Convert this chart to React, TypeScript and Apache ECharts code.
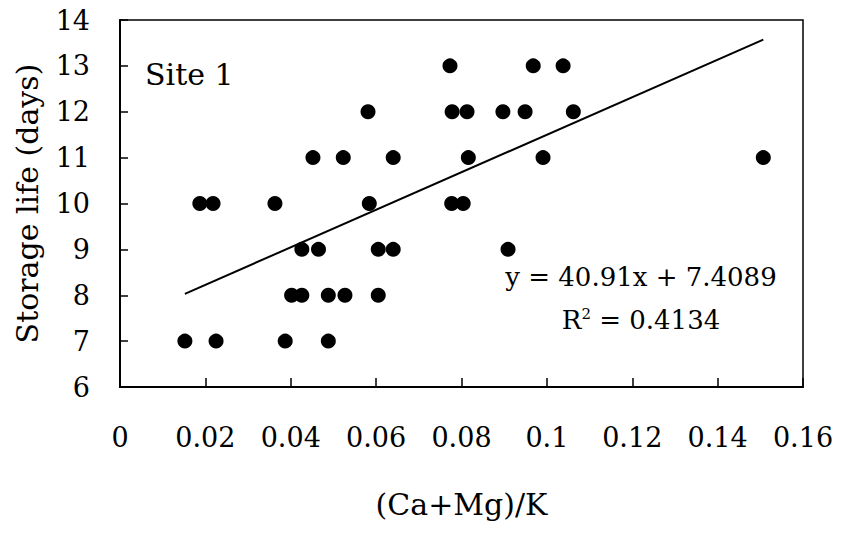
import React, { useEffect, useRef } from "react";
import * as echarts from "echarts";

const pointsX: number[] = [
  0.0187, 0.0218, 0.0363, 0.0584, 0.0777, 0.0804,
  0.0581, 0.0778, 0.0813, 0.0897, 0.0949, 0.1062,
  0.0773, 0.0968, 0.1038,
  0.0452, 0.0523, 0.064, 0.0816, 0.0991, 0.1507,
  0.0426, 0.0465, 0.0605, 0.064, 0.0909,
  0.0402, 0.0426, 0.0488, 0.0527, 0.0605,
  0.0152, 0.0225, 0.0387, 0.0488,
];
const pointsY: number[] = [
  10, 10, 10, 10, 10, 10,
  12, 12, 12, 12, 12, 12,
  13, 13, 13,
  11, 11, 11, 11, 11, 11,
  9, 9, 9, 9, 9,
  8, 8, 8, 8, 8,
  7, 7, 7, 7,
];
const slope = 40.91;
const intercept = 7.4089;
const rSquared = "0.4134";
const siteLabel = "Site 1";
const xAxisName = "(Ca+Mg)/K";
const yAxisName = "Storage life (days)";

const FONT = "DejaVu Serif";

export default function App() {
  const ref = useRef<HTMLDivElement>(null);
  useEffect(() => {
    if (!ref.current) return;
    const chart = echarts.init(ref.current, null, { renderer: "svg" });
    const scatter = pointsX.map((x, i) => [x, pointsY[i]]);
    const xmin = Math.min(...pointsX);
    const xmax = Math.max(...pointsX);
    const trend = [
      [xmin, slope * xmin + intercept],
      [xmax, slope * xmax + intercept],
    ];
    chart.setOption({
      animation: false,
      backgroundColor: "#fff",
      grid: {
        left: 120,
        top: 20,
        right: 38,
        bottom: 148,
        show: true,
        borderColor: "#000",
        borderWidth: 1.5,
      },
      xAxis: {
        type: "value",
        min: 0,
        max: 0.16,
        interval: 0.02,
        name: xAxisName,
        nameLocation: "middle",
        nameGap: 102,
        nameTextStyle: { fontFamily: FONT, fontSize: 30, color: "#000" },
        axisLine: { show: true, lineStyle: { color: "#000", width: 2 } },
        axisTick: { show: true, inside: true, length: 9, lineStyle: { color: "#000", width: 1.5 } },
        axisLabel: { margin: 37, fontFamily: FONT, fontSize: 27, color: "#000" },
        splitLine: { show: false },
      },
      yAxis: {
        type: "value",
        min: 6,
        max: 14,
        interval: 1,
        name: yAxisName,
        nameLocation: "middle",
        nameGap: 78,
        nameTextStyle: { fontFamily: FONT, fontSize: 30, color: "#000" },
        axisLine: { show: true, lineStyle: { color: "#000", width: 2 } },
        axisTick: { show: true, inside: true, length: 8, lineStyle: { color: "#000", width: 1.5 } },
        axisLabel: { margin: 30, fontFamily: FONT, fontSize: 27, color: "#000" },
        splitLine: { show: false },
      },
      series: [
        {
          type: "scatter",
          data: scatter,
          symbol: "circle",
          symbolSize: 15,
          itemStyle: { color: "#000", opacity: 1 },
          z: 3,
        },
        {
          type: "line",
          data: trend,
          showSymbol: false,
          symbol: "none",
          lineStyle: { color: "#000", width: 2 },
          z: 2,
        },
      ],
      graphic: [
        {
          type: "text",
          left: 145,
          top: 59,
          style: { text: siteLabel, fontFamily: FONT, fontSize: 30, fill: "#000" },
        },
        {
          type: "text",
          x: 641,
          y: 277,
          style: {
            text: `y = ${slope}x + ${intercept}`,
            fontFamily: FONT,
            fontSize: 26,
            fill: "#000",
            align: "center",
            verticalAlign: "middle",
          },
        },
        {
          type: "text",
          x: 641,
          y: 320,
          style: {
            text: `R{sup|2} = ${rSquared}`,
            fontFamily: FONT,
            fontSize: 26,
            fill: "#000",
            align: "center",
            verticalAlign: "middle",
            rich: {
              sup: { fontFamily: FONT, fontSize: 15, verticalAlign: "top", padding: [0, 0, 12, 0] },
            },
          },
        },
      ],
    });
    return () => chart.dispose();
  }, []);
  return (
    <div
      ref={ref}
      style={{ position: "fixed", left: 0, top: 0, width: 841, height: 535, background: "#fff" }}
    />
  );
}
